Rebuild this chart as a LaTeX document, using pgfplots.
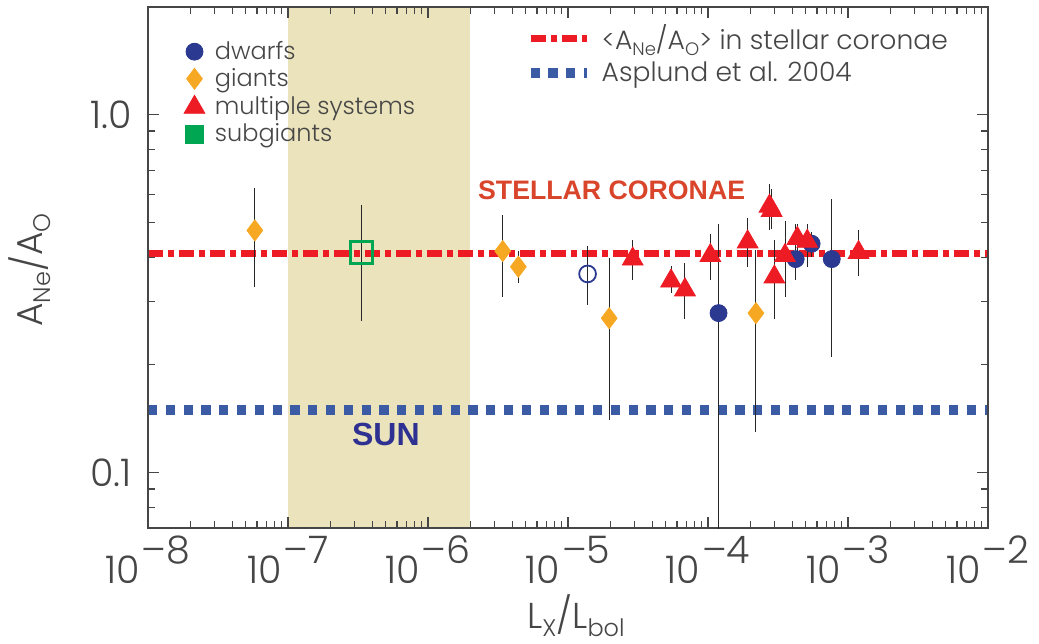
\documentclass[border=0pt]{standalone}
\usepackage{fontspec}
\setmainfont{Poppins Light}
\newfontfamily\arial{Liberation Sans}
\usepackage{pgfplots}
\pgfplotsset{compat=1.18}
\usepackage{pgfplotstable}

\definecolor{dwarf}{RGB}{43,57,144}
\definecolor{giant}{RGB}{247,168,35}
\definecolor{multi}{RGB}{237,28,36}
\definecolor{subg}{RGB}{0,166,81}
\definecolor{bandc}{RGB}{234,227,187}
\definecolor{redline}{RGB}{237,28,36}
\definecolor{blueline}{RGB}{59,91,165}
\definecolor{txt}{RGB}{70,70,70}
\definecolor{stellar}{RGB}{217,69,43}
\definecolor{sun}{RGB}{46,49,146}

\pgfplotstableread{
x y lo hi
1.19e-4 0.279 0.05 0.494
4.23e-4 0.395 0.345 0.494
5.5e-4 0.436 0.400 0.470
7.66e-4 0.395 0.210 0.583
}\dwarfs
\pgfplotstableread{
x y lo hi
1.38e-5 0.359 0.293 0.430
}\dwarfopen
\pgfplotstableread{
x y lo hi
5.8e-8 0.475 0.329 0.624
3.42e-6 0.416 0.309 0.526
4.42e-6 0.376 0.339 0.416
1.97e-5 0.270 0.140 0.399
2.2e-4 0.279 0.130 0.419
}\giants
\pgfplotstableread{
x y lo hi
2.9e-5 0.395 0.345 0.446
5.45e-5 0.343 0.318 0.377
6.85e-5 0.324 0.269 0.385
1.04e-4 0.404 0.345 0.464
1.92e-4 0.441 0.376 0.513
2.75e-4 0.555 0.476 0.640
2.85e-4 0.540 0.480 0.620
2.98e-4 0.352 0.269 0.446
3.55e-4 0.404 0.310 0.505
4.35e-4 0.451 0.397 0.494
5.12e-4 0.443 0.376 0.494
1.19e-3 0.412 0.355 0.476
}\multis
\pgfplotstableread{
x y lo hi
3.36e-7 0.412 0.266 0.561
}\subgs

\newcommand{\tenpow}[1]{10\raisebox{10pt}{\kern0.05em\textendash#1}}

\begin{document}
\begin{tikzpicture}
% background axis: band, reference lines, line legend
\begin{axis}[scale only axis, width=420pt, height=260.5pt,
  xmode=log, ymode=log,
  xmin=1e-8, xmax=1e-2, ymin=0.07, ymax=2,
  hide axis,
  legend image code/.code={\draw[#1] (0pt,0pt) -- (28pt,0pt);},
  legend style={at={(rel axis cs:0.442,0.974)}, anchor=north west,
    draw=none, fill=none, text=txt,
    font=\fontsize{13.3}{15}\selectfont,
    row sep=4.5pt, column sep=5pt,
    nodes={inner sep=0pt}},
  legend cell align=left,
]
\addplot[fill=bandc, draw=none, forget plot] coordinates {(1e-7,0.07) (2e-6,0.07) (2e-6,2) (1e-7,2)} -- cycle;
\addplot[redline, line width=3.5pt, dash pattern=on 7.5pt off 2.5pt on 3pt off 2.5pt] coordinates {(1e-8,0.41) (1e-2,0.41)};
\addplot[blueline, line width=5pt, dash pattern=on 4.6pt off 4.3pt] coordinates {(1e-8,0.15) (1e-2,0.15)};
\legend{{<A\raisebox{-3pt}{\fontsize{9}{9}\selectfont Ne}/A\raisebox{-3pt}{\fontsize{9}{9}\selectfont O}> in stellar coronae}, {Asplund et al. 2004}}
\end{axis}
% data axis
\begin{axis}[scale only axis, width=420pt, height=260.5pt,
  xmode=log, ymode=log,
  xmin=1e-8, xmax=1e-2, ymin=0.07, ymax=2,
  axis line style={txt, line width=0.8pt},
  every tick/.style={txt, line width=0.6pt},
  major tick length=5.5pt, minor tick length=3.5pt,
  xtick={1e-8,1e-7,1e-6,1e-5,1e-4,1e-3,1e-2},
  xticklabels={\tenpow{8},\tenpow{7},\tenpow{6},\tenpow{5},\tenpow{4},\tenpow{3},\tenpow{2}},
  minor xtick={2e-8,3e-8,4e-8,5e-8,6e-8,7e-8,8e-8,9e-8,
    2e-7,3e-7,4e-7,5e-7,6e-7,7e-7,8e-7,9e-7,
    2e-6,3e-6,4e-6,5e-6,6e-6,7e-6,8e-6,9e-6,
    2e-5,3e-5,4e-5,5e-5,6e-5,7e-5,8e-5,9e-5,
    2e-4,3e-4,4e-4,5e-4,6e-4,7e-4,8e-4,9e-4,
    2e-3,3e-3,4e-3,5e-3,6e-3,7e-3,8e-3,9e-3},
  ytick={0.1,1}, yticklabels={0.1,1.0},
  minor ytick={0.08,0.09,0.2,0.3,0.4,0.5,0.6,0.7,0.8,0.9},
  ticklabel style={font=\fontsize{19}{19}\selectfont, text=txt},
  xticklabel style={anchor=base, inner sep=0pt, yshift=-27.5pt},
  yticklabel style={anchor=east, inner sep=0pt, xshift=-8pt},
  xlabel={L\raisebox{-4pt}{\fontsize{12}{12}\selectfont X}/L\raisebox{-4pt}{\fontsize{12}{12}\selectfont bol}},
  ylabel={A\raisebox{-4pt}{\fontsize{12}{12}\selectfont Ne}/A\raisebox{-4pt}{\fontsize{12}{12}\selectfont O}},
  label style={font=\fontsize{18}{18}\selectfont, text=txt},
  xlabel style={at={(axis description cs:0.5095,-0.192)}, anchor=base, inner sep=0pt},
  ylabel style={at={(axis description cs:-0.1405,0.495)}, anchor=center, rotate=0, inner sep=0pt},
  legend image code/.code={\path (-6pt,0pt) (6pt,0pt); \draw[#1] plot coordinates {(0pt,0pt)};},
  legend style={at={(rel axis cs:0.033,0.943)}, anchor=north west,
    draw=none, fill=none, text=txt,
    font=\fontsize{12}{13}\selectfont,
    row sep=3pt, column sep=4pt,
    nodes={inner sep=0pt}},
  legend cell align=left,
]
\addplot[only marks, mark=*, mark size=4.25pt, mark options={draw=dwarf, fill=dwarf},
  error bars/.cd, y dir=both, y explicit, error mark=none, error bar style={black!85, line width=0.5pt}]
  table[x=x, y=y, y error plus expr=\thisrow{hi}-\thisrow{y}, y error minus expr=\thisrow{y}-\thisrow{lo}] {\dwarfs};
\addplot[only marks, mark=diamond*, mark size=5.25pt, mark options={draw=giant, fill=giant},
  error bars/.cd, y dir=both, y explicit, error mark=none, error bar style={black!85, line width=0.5pt}]
  table[x=x, y=y, y error plus expr=\thisrow{hi}-\thisrow{y}, y error minus expr=\thisrow{y}-\thisrow{lo}] {\giants};
\addplot[only marks, mark=triangle*, mark size=6pt, mark options={draw=multi, fill=multi},
  error bars/.cd, y dir=both, y explicit, error mark=none, error bar style={black!85, line width=0.5pt}]
  table[x=x, y=y, y error plus expr=\thisrow{hi}-\thisrow{y}, y error minus expr=\thisrow{y}-\thisrow{lo}] {\multis};
\addplot[only marks, mark=square, mark size=5.5pt, mark options={draw=subg, line width=1.2pt}, forget plot,
  error bars/.cd, y dir=both, y explicit, error mark=none, error bar style={black!85, line width=0.5pt}]
  table[x=x, y=y, y error plus expr=\thisrow{hi}-\thisrow{y}, y error minus expr=\thisrow{y}-\thisrow{lo}] {\subgs};
\addplot[only marks, mark=o, mark size=4.2pt, mark options={draw=dwarf, line width=0.9pt}, forget plot,
  error bars/.cd, y dir=both, y explicit, error mark=none, error bar style={black!85, line width=0.5pt}]
  table[x=x, y=y, y error plus expr=\thisrow{hi}-\thisrow{y}, y error minus expr=\thisrow{y}-\thisrow{lo}] {\dwarfopen};
\addlegendimage{only marks, mark=square*, mark size=4.6pt, mark options={draw=subg, fill=subg}}
\legend{dwarfs, giants, multiple systems, subgiants}
\node[font=\arial\bfseries\fontsize{13.35}{14}\selectfont, text=stellar, inner sep=0pt] at (axis cs:2.05e-5,0.613) {STELLAR CORONAE};
\node[font=\arial\bfseries\fontsize{16}{16}\selectfont, text=sun, inner sep=0pt] at (axis cs:5e-7,0.1276) {SUN};
\end{axis}
\pgfresetboundingbox
\path[use as bounding box] (-74pt,-57.5pt) rectangle (445.5pt,264pt);
\end{tikzpicture}
\end{document}
